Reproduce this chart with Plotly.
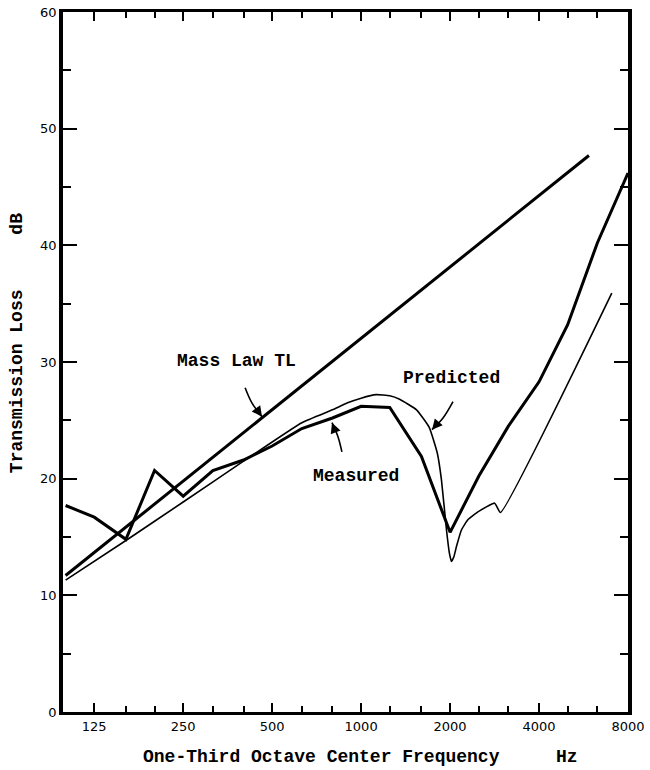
import numpy as np
import plotly.graph_objects as go

# ---- data ----
freq_measured = [100, 125, 160, 200, 250, 315, 400, 500, 630, 800, 1000, 1250,
                 1600, 2000, 2500, 3150, 4000, 5000, 6300, 8000]
tl_measured = [17.7, 16.7, 14.8, 20.7, 18.5, 20.7, 21.6, 22.8, 24.3, 25.2, 26.2, 26.1,
               21.9, 15.4, 20.2, 24.5, 28.3, 33.2, 40.2, 46.2]

freq_predicted = [100, 160, 250, 400, 630, 800, 900, 1000, 1125, 1250, 1350, 1540,
                  1700, 1810, 1870, 1945, 1990, 2022, 2060, 2103, 2185, 2300, 2500,
                  2830, 2960, 7050]
tl_predicted = [11.3, 14.7, 18.0, 21.5, 24.8, 25.9, 26.5, 26.9, 27.2, 27.1, 26.8, 25.9,
                24.4, 22.2, 19.9, 15.6, 13.6, 12.9, 13.3, 14.2, 15.6, 16.5, 17.2,
                17.9, 17.1, 35.9]

freq_masslaw = [100, 5900]
tl_masslaw = [11.7, 47.7]

octave_ticks = [125, 250, 500, 1000, 2000, 4000, 8000]
octave_labels = ["125", "250", "500", "1000", "2000", "4000", "8000"]
third_octave_ticks = [160, 200, 315, 400, 630, 800, 1250, 1600, 2500, 3150, 5000, 6300]
y_ticks = [0, 10, 20, 30, 40, 50, 60]

# curve labels: (text, freq, dB)
labels = [("Mass Law TL", 380, 30.1), ("Predicted", 2030, 28.6), ("Measured", 961, 20.2)]
# leader arrows: (freqs, dBs) from tail to tip
arrow_mass_f, arrow_mass_db = [405, 427, 462], [27.8, 26.5, 25.3]
arrow_pred_f, arrow_pred_db = [2046, 1893, 1737], [26.6, 25.2, 24.2]
arrow_meas_f, arrow_meas_db = [861, 835, 797], [22.3, 23.6, 24.8]

fig = go.Figure()
fig.add_trace(go.Scatter(x=freq_masslaw, y=tl_masslaw, mode="lines",
                         line=dict(color="black", width=3), hoverinfo="skip"))
fig.add_trace(go.Scatter(x=freq_predicted, y=tl_predicted, mode="lines",
                         line=dict(color="black", width=1.6, shape="spline", smoothing=0.4),
                         hoverinfo="skip"))
fig.add_trace(go.Scatter(x=freq_measured, y=tl_measured, mode="lines",
                         line=dict(color="black", width=3), hoverinfo="skip"))

for fs, ds in [(arrow_mass_f, arrow_mass_db), (arrow_pred_f, arrow_pred_db),
               (arrow_meas_f, arrow_meas_db)]:
    fig.add_trace(go.Scatter(x=fs, y=ds, mode="lines",
                             line=dict(color="black", width=1.6, shape="spline"),
                             hoverinfo="skip"))

mono = dict(family="Liberation Mono, Courier New, monospace", size=18, color="black",
            weight="bold")
ann = []
for t, f, d in labels:
    ann.append(dict(text=t, x=np.log10(f), y=d, xref="x", yref="y", showarrow=False,
                    xanchor="center", yanchor="middle", font=mono))
# arrowheads at tips
for fs, ds, ax, ay in [(arrow_mass_f, arrow_mass_db, -5, -7),
                       (arrow_pred_f, arrow_pred_db, 6, -7),
                       (arrow_meas_f, arrow_meas_db, 3, 8)]:
    ann.append(dict(text="", x=np.log10(fs[-1]), y=ds[-1], xref="x", yref="y",
                    showarrow=True, ax=ax, ay=ay, axref="pixel", ayref="pixel",
                    arrowhead=2, arrowsize=1.3, arrowwidth=1.6, arrowcolor="black",
                    standoff=0, startstandoff=0))

title_kw = dict(xref="paper", yref="paper", showarrow=False, xanchor="center",
                yanchor="middle", font=mono)
ann.append(dict(text="One-Third Octave Center Frequency", x=0.458, y=-0.064, **title_kw))
ann.append(dict(text="Hz", x=0.892, y=-0.064, **title_kw))
ann.append(dict(text="Transmission Loss", x=-0.081, y=0.473, textangle=-90, **title_kw))
ann.append(dict(text="dB", x=-0.081, y=0.698, textangle=-90, **title_kw))

tickfont = dict(family="DejaVu Sans, sans-serif", size=13, color="black")

fig.update_layout(
    width=650, height=770,
    margin=dict(l=63, r=22, t=12, b=58),
    paper_bgcolor="white", plot_bgcolor="white",
    showlegend=False,
    annotations=ann,
    xaxis=dict(type="log", range=[np.log10(98), np.log10(8000)], automargin=False,
               tickmode="array", tickvals=octave_ticks, ticktext=octave_labels,
               ticks="inside", ticklen=9, tickwidth=2, tickcolor="black",
               minor=dict(tickmode="array", tickvals=third_octave_ticks, ticks="inside",
                          ticklen=6, tickwidth=2, tickcolor="black"),
               showgrid=False, zeroline=False, showline=True, linecolor="black",
               linewidth=3, mirror="ticks", tickfont=tickfont),
    yaxis=dict(range=[0, 60], tickmode="array", tickvals=y_ticks, automargin=False,
               ticks="inside", ticklen=14, tickwidth=2, tickcolor="black",
               minor=dict(dtick=5, ticks="inside", ticklen=8, tickwidth=2,
                          tickcolor="black"),
               showgrid=False, zeroline=False, showline=True, linecolor="black",
               linewidth=3.5, mirror="ticks", tickfont=tickfont),
)

fig.write_html("out.html")
